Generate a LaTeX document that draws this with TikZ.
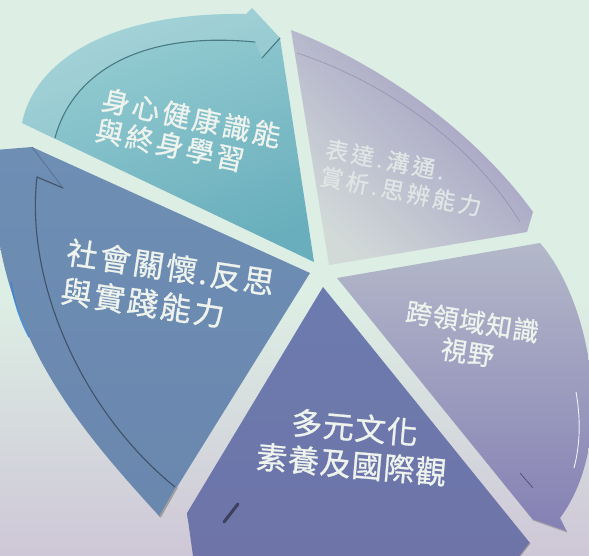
\documentclass[tikz,border=0pt]{standalone}
\usepackage{fontspec}
\newfontfamily\cjk{Noto Sans CJK TC}[FakeBold=0.8]
\definecolor{bgtop}{HTML}{DDEEE4}
\definecolor{bgbot}{HTML}{CEC7D7}
\definecolor{tealA}{HTML}{98CED3}
\definecolor{tealB}{HTML}{68AEBC}
\definecolor{purA}{HTML}{D2DAD8}
\definecolor{purB}{HTML}{9C96C0}
\definecolor{lavA}{HTML}{B3B8C9}
\definecolor{lavB}{HTML}{8580B4}
\definecolor{dbA}{HTML}{6C7BAE}
\definecolor{dbB}{HTML}{6E74A8}
\definecolor{stA}{HTML}{6E8EB4}
\definecolor{stB}{HTML}{6A87AE}
\definecolor{txt}{HTML}{EEF3EE}
\definecolor{txtp}{HTML}{E0E6E5}
\tikzset{
  lbl/.style={text=txt, inner sep=0pt},
  ridge/.style={line width=1.1pt, line cap=round},
}
\begin{document}
\begin{tikzpicture}[x=1pt,y=-1pt]
\useasboundingbox (0,0) rectangle (589,555);
\clip (0,0) rectangle (589,555);
% background
\fill[bgtop] (0,0) rectangle (589,300);
\shade[top color=bgtop, bottom color=bgbot] (0,299) rectangle (589,555);

% teal segment
\shade[top color=tealA, bottom color=tealB, shading angle=20]
  (314,262) -- (22,123) .. controls (35,60) and (110,12) .. (246,14)
  -- (252,8) -- (280,38) -- cycle;
\fill[white, opacity=0.13]
  (22,123) .. controls (35,60) and (110,12) .. (246,14) -- (252,8) -- (280,38)
  -- (262,58) -- (255,42) .. controls (130,30) and (70,80) .. (55,138) -- cycle;
\draw[ridge, draw=tealB!70!black] (55,138) .. controls (70,80) and (130,30) .. (255,42);
\draw[ridge, draw=tealB!70!black] (262,58) -- (280,38);

% purple segment
\shade[left color=purB, right color=purA, shading angle=-45]
  (329,265) -- (291,30) .. controls (370,60) and (470,125) .. (533,212)
  -- (527,232) -- cycle;
\draw[line width=0.7pt, draw=purB!80!black, opacity=0.5] (297,53) .. controls (380,80) and (470,140) .. (520,222);

% lavender segment
\shade[top color=lavA, bottom color=lavB]
  (337,278) -- (540,243) .. controls (590,300) and (618,440) .. (560,518)
  -- (567,532) -- (533,520) -- cycle;
\draw[line width=0.9pt, draw=white!80!lavA] (576,392) .. controls (581,420) and (580,445) .. (574,468);
\draw[line width=0.7pt, draw=lavB!60!black] (520,473) -- (533,488);
\draw[line width=1pt, draw=gray!70] (567,532) -- (533,520);

% dark blue segment
\shade[top color=dbA, bottom color=dbB]
  (323,287) -- (530,543) -- (520,556) -- (193,556) -- (187,513) -- cycle;
\draw[line width=1.2pt, draw=gray!80] (530,543) -- (520,556);
\draw[line width=3pt, line cap=round, draw=dbB!55!black] (238,504) -- (224,522);

% steel segment
\shade[top color=stA, bottom color=stB]
  (310,273) -- (177,487) -- (160,517) .. controls (90,440) and (8,350) .. (-5,210)
  -- (-5,150) -- (32,147) -- cycle;
\draw[line width=2pt, draw=gray!75] (177,487) -- (160,517);
\draw[ridge, draw=stB!60!black] (37,177) .. controls (25,280) and (80,410) .. (175,487);
\draw[ridge, draw=stB!60!black] (37,177) -- (63,188);
\draw[line width=0.8pt, draw=stA!80!black] (32,147) -- (63,188);
\draw[line width=1.4pt, draw=stA!60!cyan!70!blue, opacity=0.8] (11,282) .. controls (14,302) and (20,320) .. (29,337);

% labels
\node[lbl, anchor=west, rotate=-12, align=left, font=\cjk\addfontfeature{LetterSpace=10}\fontsize{28}{31}\selectfont] (t1) at (99,114) {身心健康識能\\與終身學習};
\node[lbl, text=txtp, anchor=west, rotate=-11, align=left, font=\cjk\addfontfeature{LetterSpace=14}\fontsize{23}{28}\selectfont] (t2) at (323,162) {表達.溝通.\\賞析.思辨能力};
\node[lbl, rotate=-9, align=center, font=\cjk\addfontfeature{LetterSpace=4}\fontsize{26}{31}\selectfont] (t3) at (470,337) {跨領域知識\\視野};
\node[lbl, rotate=-5, align=center, font=\cjk\addfontfeature{LetterSpace=3}\fontsize{31}{37}\selectfont] (t4) at (353,446) {多元文化\\素養及國際觀};
\node[lbl, anchor=west, rotate=-8.6, align=left, font=\cjk\addfontfeature{LetterSpace=8}\fontsize{31}{39}\selectfont] (t5) at (64,271) {社會關懷.反思\\與實踐能力};
\end{tikzpicture}
\end{document}
